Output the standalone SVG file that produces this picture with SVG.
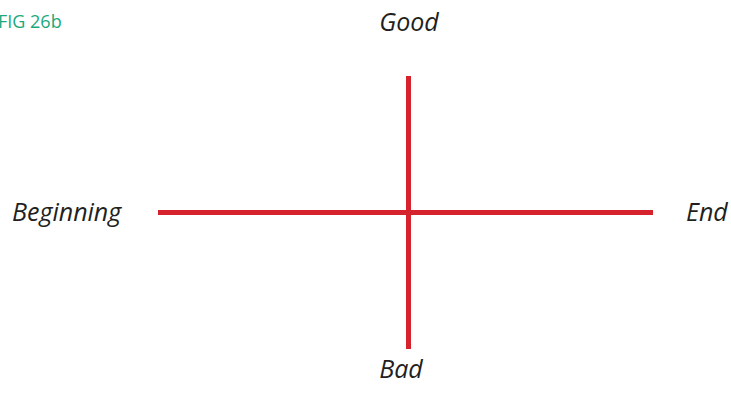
<svg xmlns="http://www.w3.org/2000/svg" width="731" height="409" viewBox="0 0 731 409">
<style>
.lbl{font-family:"Open Sans","Noto Sans",sans-serif;font-style:italic;font-size:25px;fill:#231f20}
.fig{font-family:"Open Sans","Noto Sans",sans-serif;font-size:18px;fill:#1ba97c}
.ax{stroke:#d6222d;stroke-width:5;fill:none}
</style>
<rect width="731" height="409" fill="#fff"/>
<text class="fig" x="-2" y="28">FIG 26b</text>
<g id="connectors">
<line class="ax" x1="158" y1="212.5" x2="653" y2="212.5"/>
<line class="ax" x1="408.5" y1="76" x2="408.5" y2="349"/>
</g>
<g id="good"><text class="lbl" x="409" y="31" text-anchor="middle">Good</text></g>
<g id="beginning"><text class="lbl" x="12" y="221">Beginning</text></g>
<g id="end"><text class="lbl" x="686" y="221">End</text></g>
<g id="bad"><text class="lbl" x="401" y="378" text-anchor="middle">Bad</text></g>
</svg>
